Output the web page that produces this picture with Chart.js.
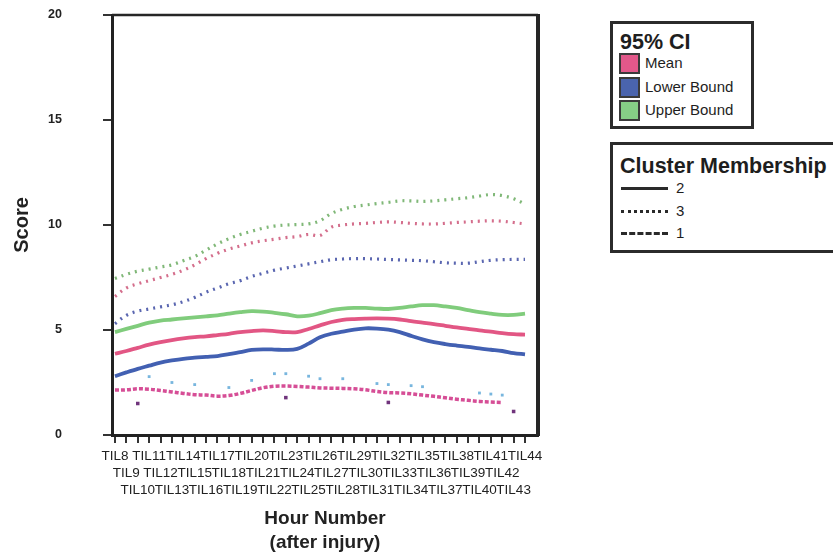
<!DOCTYPE html>
<html>
<head>
<meta charset="utf-8">
<script src="https://cdn.jsdelivr.net/npm/chart.js@4/dist/chart.umd.min.js"></script>
<style>
  html, body { margin: 0; padding: 0; background: #fff; }
  #wrap { position: relative; width: 833px; height: 555px; overflow: hidden;
          font-family: "Liberation Sans", Arial, sans-serif; color: #1e1e1e; }
  #chart { position: absolute; left: 0; top: 0; }
  .box { position: absolute; border: 3px solid #2b2b2b; box-sizing: border-box; background: #fff; }
  .t { position: absolute; white-space: nowrap; line-height: 24px; height: 24px; }
  .title { font-weight: bold; font-size: 21.5px; }
  .item { font-size: 15px; }
  .sw { position: absolute; width: 17px; height: 17px; border: 2px solid #3a3a3a; }
  .ln { position: absolute; width: 47px; height: 0; }
</style>
</head>
<body>
<div id="wrap">
  <canvas id="chart" width="833" height="555"></canvas>

  <!-- 95% CI legend -->
  <div class="box" style="left:610px; top:21px; width:144px; height:108px;"></div>
  <div class="t title" style="left:620px; top:30px;">95% CI</div>
  <div class="sw" style="left:619px; top:53px; background:#e2588a;"></div>
  <div class="t item" style="left:645px; top:51px;">Mean</div>
  <div class="sw" style="left:619px; top:77px; background:#4a64ad;"></div>
  <div class="t item" style="left:645px; top:75px;">Lower Bound</div>
  <div class="sw" style="left:619px; top:100px; background:#86cf86;"></div>
  <div class="t item" style="left:645px; top:98px;">Upper Bound</div>

  <!-- Cluster Membership legend -->
  <div class="box" style="left:610px; top:142px; width:250px; height:111px;"></div>
  <div class="t title" style="left:620px; top:154px;">Cluster Membership</div>
  <div class="ln" style="left:621px; top:187px; border-top:3px solid #2a2a2a;"></div>
  <div class="t item" style="left:676px; top:176px;">2</div>
  <div class="ln" style="left:621px; top:210px; border-top:3px dotted #2a2a2a;"></div>
  <div class="t item" style="left:676px; top:199px;">3</div>
  <div class="ln" style="left:621px; top:232px; border-top:3px dashed #2a2a2a;"></div>
  <div class="t item" style="left:676px; top:221px;">1</div>
</div>

<script>
// Hour labels along the x axis
const hours = ['TIL8','TIL9','TIL10','TIL11','TIL12','TIL13','TIL14','TIL15','TIL16','TIL17',
               'TIL18','TIL19','TIL20','TIL21','TIL22','TIL23','TIL24','TIL25','TIL26','TIL27',
               'TIL28','TIL29','TIL30','TIL31','TIL32','TIL33','TIL34','TIL35','TIL36','TIL37',
               'TIL38','TIL39','TIL40','TIL41','TIL42','TIL43','TIL44'];

const scoreTicks = [0, 5, 10, 15, 20];

// Cluster 2 (solid lines)
const c2Mean  = [3.87,4.0,4.15,4.3,4.42,4.52,4.6,4.66,4.7,4.76,4.82,4.9,4.95,4.98,4.95,4.9,4.9,5.05,5.22,5.38,
                 5.48,5.52,5.54,5.55,5.54,5.5,5.42,5.35,5.28,5.2,5.12,5.05,4.98,4.92,4.85,4.8,4.78];
const c2Lower = [2.8,2.98,3.15,3.3,3.45,3.55,3.63,3.68,3.72,3.76,3.85,3.95,4.05,4.08,4.07,4.05,4.1,4.35,4.65,4.82,
                 4.92,5.02,5.08,5.07,5.02,4.9,4.72,4.55,4.42,4.33,4.26,4.2,4.12,4.06,4.0,3.9,3.84];
const c2Upper = [4.9,5.05,5.2,5.35,5.45,5.5,5.55,5.6,5.65,5.7,5.78,5.85,5.9,5.88,5.82,5.75,5.65,5.68,5.8,5.95,
                 6.02,6.05,6.05,6.02,6.0,6.05,6.12,6.18,6.18,6.12,6.05,5.95,5.85,5.78,5.72,5.72,5.78];

// Cluster 3 (dotted lines)
const c3Mean  = [6.6,7.0,7.2,7.35,7.5,7.65,7.85,8.1,8.4,8.65,8.85,9.0,9.15,9.25,9.32,9.4,9.45,9.55,9.5,9.9,
                 10.0,10.05,10.08,10.12,10.15,10.12,10.08,10.05,10.05,10.08,10.12,10.15,10.18,10.2,10.18,10.12,10.05];
const c3Lower = [5.3,5.7,5.9,6.0,6.1,6.2,6.35,6.55,6.8,7.0,7.2,7.35,7.55,7.7,7.85,7.95,8.05,8.15,8.25,8.35,
                 8.38,8.4,8.4,8.38,8.36,8.34,8.32,8.3,8.25,8.2,8.18,8.18,8.25,8.32,8.35,8.36,8.36];
const c3Upper = [7.45,7.65,7.8,7.9,8.0,8.1,8.3,8.5,8.8,9.1,9.35,9.55,9.7,9.85,9.95,10.0,10.02,10.05,10.2,10.55,
                 10.75,10.88,10.95,11.02,11.08,11.15,11.15,11.12,11.15,11.2,11.25,11.3,11.38,11.45,11.4,11.25,11.0];

// Cluster 1 (dashed mean, bounds only at scattered hours)
const c1Mean  = [2.14,2.15,2.2,2.18,2.12,2.05,1.98,1.92,1.9,1.85,1.88,1.98,2.12,2.25,2.32,2.33,2.31,2.28,2.24,2.23,
                 2.22,2.2,2.15,2.07,2.02,2.0,1.96,1.9,1.84,1.77,1.7,1.65,1.6,1.57,1.55,null,null];
const c1Upper = [null,null,null,2.78,null,2.5,null,2.4,null,null,2.26,null,2.6,null,2.92,2.92,null,2.8,2.68,null,
                 2.68,null,null,2.45,2.4,null,2.35,2.3,null,null,null,null,2.0,1.95,1.9,null,null];
const c1Lower = [null,null,1.5,null,null,null,null,null,null,null,null,null,null,null,null,1.78,null,null,null,null,
                 null,null,null,null,1.55,null,null,null,null,null,null,null,null,null,null,1.12,null];

const FONT = '"Liberation Sans", Arial, sans-serif';
const pts = arr => arr.map((v, i) => ({ x: i, y: v }));

function line(label, arr, color, width, dash) {
  return {
    label, data: pts(arr), borderColor: color, backgroundColor: color,
    borderWidth: width, borderDash: dash || [], borderCapStyle: 'butt',
    pointRadius: 0, tension: 0.35, fill: false, spanGaps: false
  };
}
function marks(label, arr, color, r) {
  return {
    label, data: pts(arr), showLine: false, borderColor: color, backgroundColor: color,
    pointRadius: r, pointStyle: 'rect', pointBorderWidth: 0
  };
}

// Outline the top and right sides of the plot area
const frame = {
  id: 'frame',
  afterDraw(chart) {
    const { ctx, chartArea: a } = chart;
    ctx.save();
    ctx.strokeStyle = '#262626';
    ctx.lineWidth = 2.5;
    ctx.beginPath();
    ctx.moveTo(a.left, a.top);
    ctx.lineTo(a.right, a.top);
    ctx.stroke();
    ctx.lineWidth = 4;
    ctx.beginPath();
    ctx.moveTo(a.right, a.top - 1);
    ctx.lineTo(a.right, a.bottom + 1);
    ctx.stroke();
    ctx.restore();
  }
};

new Chart(document.getElementById('chart'), {
  type: 'line',
  data: {
    datasets: [
      line('Cluster 2 Mean',  c2Mean,  'rgb(226,86,132)', 3.8),
      line('Cluster 2 Lower', c2Lower, 'rgb(66,96,178)',  3.8),
      line('Cluster 2 Upper', c2Upper, 'rgb(128,204,124)', 3.8),
      line('Cluster 3 Mean',  c3Mean,  'rgb(212,110,140)', 3.2, [2, 5]),
      line('Cluster 3 Lower', c3Lower, 'rgb(90,102,176)',  3.2, [2, 5]),
      line('Cluster 3 Upper', c3Upper, 'rgb(128,184,120)', 3.2, [2, 5]),
      line('Cluster 1 Mean',  c1Mean,  'rgb(214,78,150)', 3.5, [4, 2]),
      marks('Cluster 1 Upper', c1Upper, 'rgb(120,182,222)', 2),
      marks('Cluster 1 Lower', c1Lower, 'rgb(112,52,124)', 2.5)
    ]
  },
  options: {
    responsive: false,
    animation: false,
    devicePixelRatio: 1,
    layout: { padding: { top: 15, right: 295, bottom: 0, left: 0 } },
    plugins: { legend: { display: false }, tooltip: { enabled: false } },
    scales: {
      x: {
        type: 'linear',
        min: -0.26,
        max: 37.14,
        afterBuildTicks: sc => { sc.ticks = hours.map((_, i) => ({ value: i })); },
        afterFit: sc => { sc.height = 120; sc.paddingLeft = 0; sc.paddingRight = 0; },
        ticks: {
          autoSkip: false, maxRotation: 0, minRotation: 0, padding: 5, color: '#222',
          font: { family: FONT, size: 13.5, lineHeight: 1.26 },
          callback: v => {
            const i = Math.round(v);
            const name = hours[i];
            return i % 3 === 0 ? [name] : (i % 3 === 1 ? ['', name] : ['', '', name]);
          }
        },
        grid: { drawOnChartArea: false, drawTicks: true, tickLength: 8, color: '#333', lineWidth: 2 },
        border: { display: true, color: '#222', width: 3 },
        title: {
          display: true, text: ['Hour Number', '(after injury)'], color: '#222', padding: 0,
          font: { family: FONT, size: 19, weight: 'bold', lineHeight: 1.26 }
        }
      },
      y: {
        min: 0, max: 20,
        afterBuildTicks: sc => { sc.ticks = scoreTicks.map(v => ({ value: v })); },
        afterFit: sc => { sc.width = 112; sc.paddingTop = 0; sc.paddingBottom = 0; },
        ticks: { padding: 41, color: '#222', font: { family: FONT, size: 12.5, weight: 'bold' } },
        grid: { drawOnChartArea: false, drawTicks: true, tickLength: 9, color: '#333', lineWidth: 2 },
        border: { display: true, color: '#222', width: 3 },
        title: {
          display: true, text: 'Score', color: '#222', padding: { top: 10, bottom: 0 },
          font: { family: FONT, size: 20, weight: 'bold', lineHeight: 1.2 }
        }
      }
    }
  },
  plugins: [frame]
});
</script>
</body>
</html>
